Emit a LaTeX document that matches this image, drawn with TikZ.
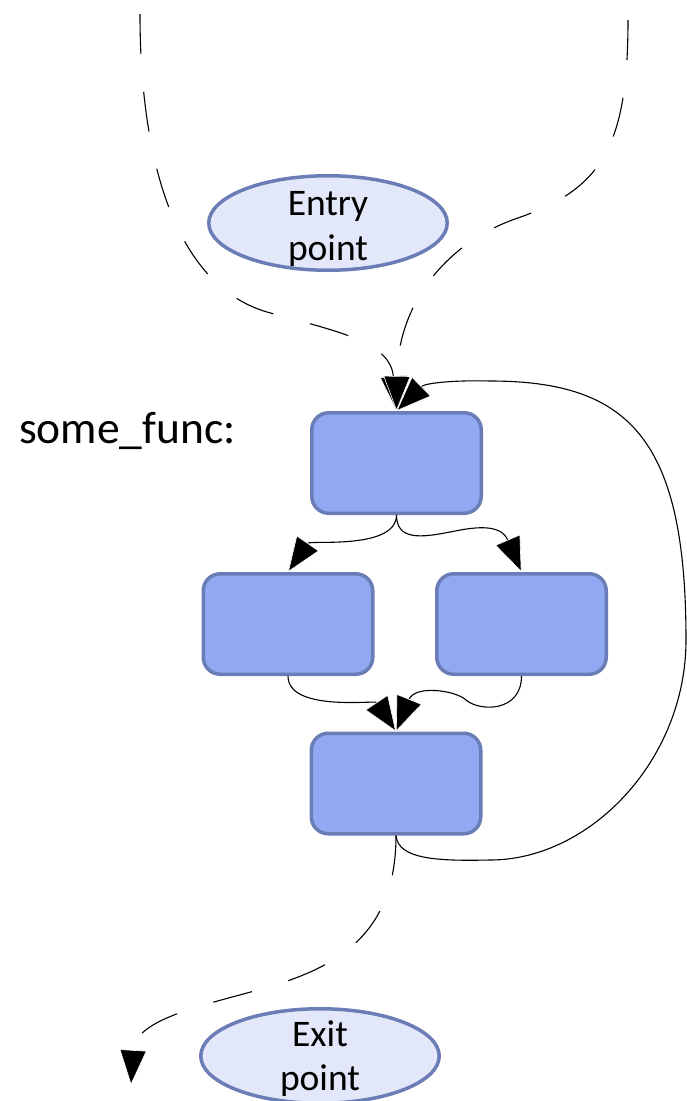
\documentclass[tikz,border=0pt]{standalone}
\usepackage{fontspec}
\setmainfont{Carlito}
\usetikzlibrary{arrows.meta,shapes.geometric}
\definecolor{boxfill}{HTML}{91A8F2}
\definecolor{boxdraw}{HTML}{6B7DB7}
\definecolor{ellfill}{HTML}{E2E8F9}
\begin{document}
\begin{tikzpicture}[x=1pt,y=-1pt,
  block/.style={draw=boxdraw, fill=boxfill, line width=3.5pt, rounded corners=17pt,
    minimum width=169.5pt, minimum height=100.5pt, inner sep=0pt},
  term/.style={ellipse, draw=boxdraw, fill=ellfill, line width=3.5pt,
    minimum width=238.5pt, minimum height=94.5pt, inner sep=0pt},
  lbl/.style={font=\fontsize{37.5}{42}\selectfont, inner sep=0pt, anchor=base},
  title/.style={font=\fontsize{45.5}{52}\selectfont, inner sep=0pt, anchor=base west},
  flow/.style={line width=1.1pt,
    -{Triangle[length=35pt,width=27pt,color=white,fill=black,line width=0.6pt]}},
  dashedflow/.style={flow, dash pattern=on 40pt off 38pt}]
\useasboundingbox (0,0) rectangle (687,1101);

% terminals
\node[term] (entry) at (328,223) {};
\node[lbl] (entry1) at (328,215) {Entry};
\node[lbl] (entry2) at (328,260) {point};
\node[term] (exit) at (320,1056) {};
\node[lbl] (exit1) at (320,1046) {Exit};
\node[lbl] (exit2) at (320,1090) {point};

% function label
\node[title] (fname) at (19,443) {some\_func:};

% blocks
\node[block] (top) at (396.5,463) {};
\node[block] (left) at (288,624) {};
\node[block] (right) at (521.5,624) {};
\node[block] (bot) at (396,783.5) {};

% free ends
\coordinate (inL) at (140,14);
\coordinate (inR) at (628,20);
\coordinate (outEnd) at (131,1085);

% incoming dashed edges
\draw[dashedflow] (inL) .. controls (140,160) and (175,285) .. (267,312)
  .. controls (330,330) and (390,340) .. (top.north);
\draw[dashedflow] (inR) .. controls (628,150) and (600,190) .. (515,219)
  .. controls (450,242) and (398,300) .. (top.north);

% inner edges
\draw[flow] (top.south) .. controls (396.5,550) and (310,540) .. (left.north);
\draw[flow] (top.south) .. controls (396.5,540) and (420,538) .. (450,532)
  .. controls (470,528) and (500,522) .. (right.north);
\draw[flow] (left.south) .. controls (288,712) and (375,700) .. (bot.north);
\draw[flow] (right.south) .. controls (521.5,712) and (480,712) .. (466,700)
  .. controls (455,690) and (415,685) .. (bot.north);

% loop back
\draw[flow] (bot.south) .. controls (398,860) and (440,861) .. (490,860)
  .. controls (590,860) and (686,760) .. (686,640)
  .. controls (686,440) and (630,381) .. (490,381)
  .. controls (455,380) and (425,383) .. (top.north);

% outgoing dashed edge
\draw[dashedflow] (bot.south) .. controls (396,940) and (330,970) .. (258,990)
  .. controls (200,1006) and (135,1020) .. (outEnd);
\end{tikzpicture}
\end{document}
